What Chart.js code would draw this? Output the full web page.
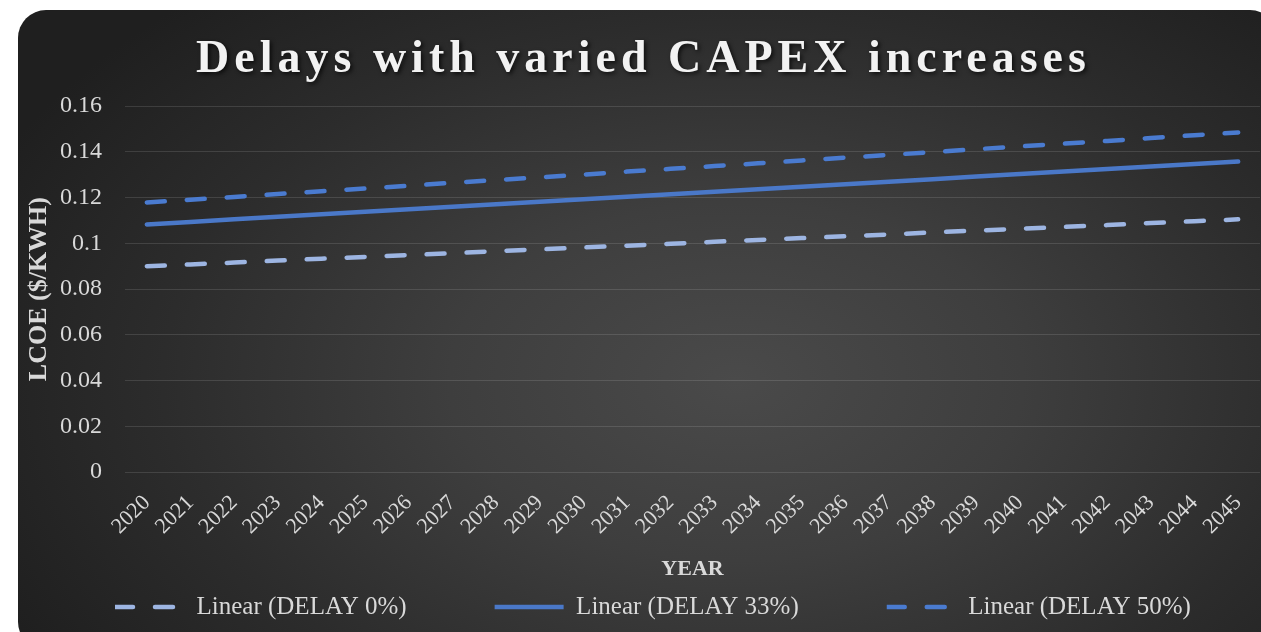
<!DOCTYPE html>
<html>
<head>
<meta charset="utf-8">
<script src="https://cdn.jsdelivr.net/npm/chart.js@4.4.1/dist/chart.umd.min.js"></script>
<style>
  html, body { margin: 0; padding: 0; background: #ffffff; width: 1261px; height: 632px; overflow: hidden; }
  #card {
    position: absolute; left: 18px; top: 10px; width: 1260px; height: 640px;
    border-radius: 28px 28px 0 28px;
    background: radial-gradient(ellipse 65% 80% at 57% 58%, #4a4a4a 0%, #3e3e3e 35%, #2c2c2c 70%, #1f1f1f 100%);
  }
  #wrap { position: absolute; left: 0; top: 0; width: 1261px; height: 632px; }
</style>
</head>
<body>
<div id="card"></div>
<div id="wrap"><canvas id="c" width="1261" height="632"></canvas></div>
<script>
const years = ['2020','2021','2022','2023','2024','2025','2026','2027','2028','2029','2030','2031','2032',
               '2033','2034','2035','2036','2037','2038','2039','2040','2041','2042','2043','2044','2045'];
const delay0  = [0.0900,0.0908,0.0916,0.0925,0.0933,0.0941,0.0949,0.0957,0.0966,0.0974,0.0982,0.0990,0.0998,
                 0.1007,0.1015,0.1023,0.1031,0.1039,0.1048,0.1056,0.1064,0.1072,0.1080,0.1089,0.1097,0.1105];
const delay33 = [0.1083,0.1094,0.1105,0.1116,0.1127,0.1138,0.1149,0.1160,0.1171,0.1182,0.1193,0.1204,0.1215,
                 0.1226,0.1237,0.1248,0.1259,0.1270,0.1281,0.1292,0.1303,0.1314,0.1325,0.1336,0.1347,0.1358];
const delay50 = [0.1179,0.1191,0.1203,0.1216,0.1228,0.1240,0.1252,0.1265,0.1277,0.1289,0.1301,0.1314,0.1326,
                 0.1338,0.1350,0.1363,0.1375,0.1387,0.1399,0.1412,0.1424,0.1436,0.1448,0.1461,0.1473,0.1485];
const yTickLabels = ['0','0.02','0.04','0.06','0.08','0.1','0.12','0.14','0.16'];
const seriesNames = ['Linear (DELAY 0%)','Linear (DELAY 33%)','Linear (DELAY 50%)'];

const SERIF = "'Liberation Serif', 'DejaVu Serif', serif";
const TXT = '#d9d9d9';
const LEGEND_ROW_TOP = 594.5;

const chart = new Chart(document.getElementById('c'), {
  type: 'line',
  data: {
    labels: years,
    datasets: [
      { label: seriesNames[0], data: delay0, borderColor: '#9db5e2', backgroundColor: '#9db5e2',
        borderWidth: 4.5, borderDash: [18, 22], borderCapStyle: 'round', pointRadius: 0, tension: 0 },
      { label: seriesNames[1], data: delay33, borderColor: '#4a78c8', backgroundColor: '#4a78c8',
        borderWidth: 4.5, borderCapStyle: 'round', pointRadius: 0, tension: 0 },
      { label: seriesNames[2], data: delay50, borderColor: '#4a7bd0', backgroundColor: '#4a7bd0',
        borderWidth: 4.5, borderDash: [18, 22], borderCapStyle: 'round', pointRadius: 0, tension: 0 }
    ]
  },
  options: {
    responsive: false,
    animation: false,
    devicePixelRatio: 1,
    layout: { padding: { top: 10, left: 27, right: 1, bottom: 3 } },
    plugins: {
      title: {
        display: true,
        text: 'Delays with varied CAPEX increases',
        color: '#f2f2f2',
        font: { family: SERIF, size: 46, weight: 'bold' },
        padding: { top: 23, bottom: 18 }
      },
      legend: {
        display: true,
        position: 'bottom',
        align: 'start',
        maxHeight: 40,
        labels: {
          color: TXT,
          font: { family: SERIF, size: 25 },
          boxWidth: 69,
          boxHeight: 0,
          padding: 88,
          generateLabels(ch) {
            const items = Chart.defaults.plugins.legend.labels.generateLabels(ch);
            items.forEach(it => { if (it.lineDash && it.lineDash.length) it.lineDash = [18, 22]; });
            return items;
          }
        }
      },
      tooltip: { enabled: false }
    },
    scales: {
      x: {
        offset: true,
        grid: { display: false, drawTicks: false },
        border: { display: false },
        ticks: {
          color: TXT, font: { family: SERIF, size: 22 },
          minRotation: 45, maxRotation: 45, autoSkip: false, padding: 18
        },
        title: {
          display: true, text: 'YEAR', color: TXT,
          font: { family: SERIF, size: 22, weight: 'bold' },
          padding: { top: 0, bottom: 6 }
        },
        afterFit(scale) { scale.height = 117; scale.paddingRight = 0; scale.paddingLeft = 0; }
      },
      y: {
        min: 0, max: 0.16,
        grid: { color: 'rgba(255,255,255,0.12)', lineWidth: 1, drawTicks: false },
        border: { display: false },
        ticks: {
          stepSize: 0.02, color: TXT, font: { family: SERIF, size: 24 }, padding: 23,
          callback: (v) => yTickLabels[Math.round(v / 0.02)]
        },
        title: {
          display: true, text: 'LCOE ($/KWH)', color: TXT,
          font: { family: SERIF, size: 26, weight: 'bold' },
          padding: { top: -3, bottom: 0 }
        },
        afterFit(scale) { scale.width = 98; }
      }
    }
  }
});

// Letter-spaced, shadowed title (as in the original)
const tb = chart.titleBlock;
const origTitleDraw = tb.draw.bind(tb);
tb.draw = function () {
  const ctx = this.ctx;
  ctx.save();
  ctx.letterSpacing = '5px';
  ctx.shadowColor = 'rgba(0,0,0,0.7)';
  ctx.shadowBlur = 4; ctx.shadowOffsetX = 2; ctx.shadowOffsetY = 2;
  origTitleDraw();
  ctx.restore();
};
// Legend: wide item spacing on one compact row placed just under the axis title
const lg = chart.legend;
const origLegendDraw = lg.draw.bind(lg);
lg.draw = function () {
  const t = this.top, r = this.right;
  this.top = LEGEND_ROW_TOP - this.options.labels.padding;
  this.right = r + 60;
  origLegendDraw();
  this.top = t;
  this.right = r;
};
chart.draw();
</script>
</body>
</html>
